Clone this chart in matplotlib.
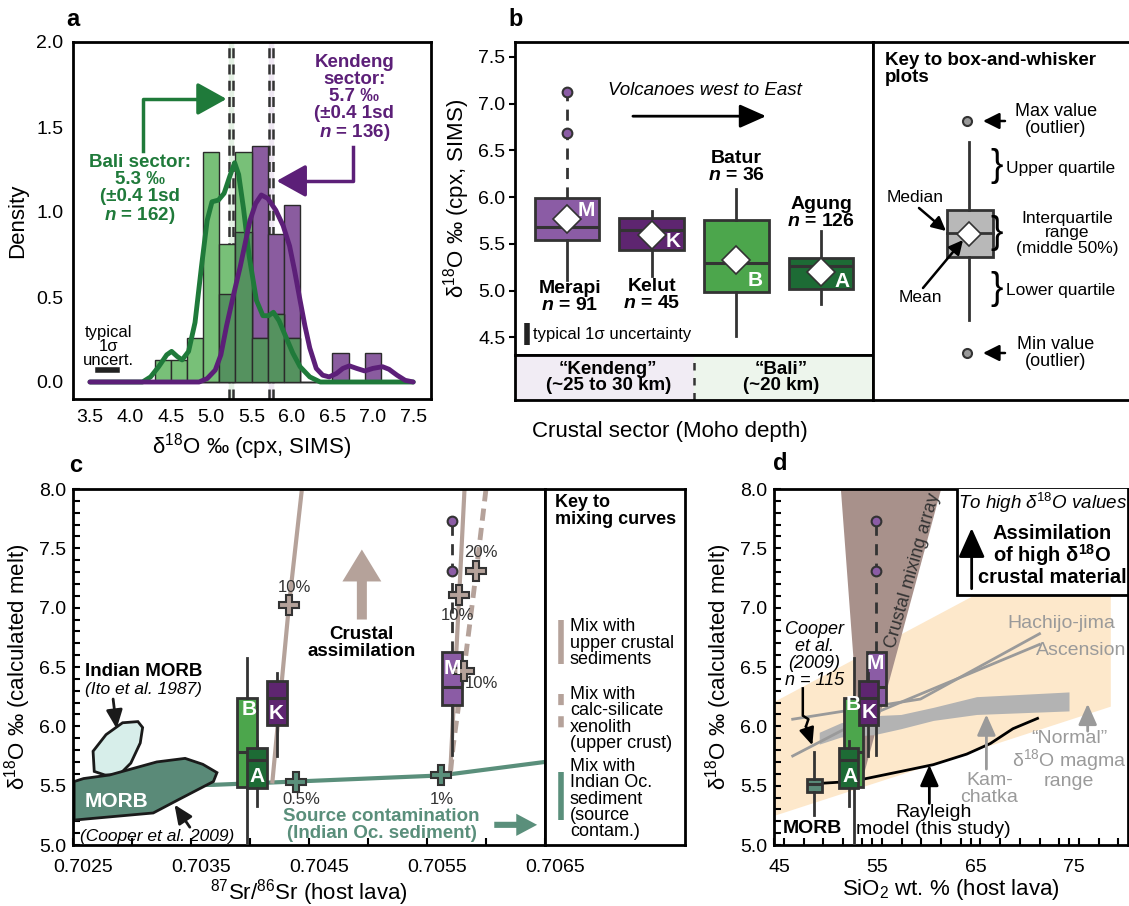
import matplotlib
matplotlib.use("Agg")
import matplotlib.pyplot as plt
import matplotlib.transforms as mtransforms
import numpy as np
from matplotlib.patches import Polygon, Rectangle
from matplotlib.ticker import FormatStrFormatter, MultipleLocator

plt.rcParams["font.family"] = ["Liberation Sans", "DejaVu Sans"]
plt.rcParams["font.size"] = 13.5
plt.rcParams["mathtext.fontset"] = "custom"
plt.rcParams["mathtext.rm"] = "Liberation Sans"
plt.rcParams["mathtext.it"] = "Liberation Sans:italic"
plt.rcParams["mathtext.bf"] = "Liberation Sans:bold"
plt.rcParams["mathtext.bfit"] = "Liberation Sans:italic:bold"

# ---------------- panel a: histogram + KDE ----------------
bin_left = [4.3, 4.5, 4.7, 4.9, 5.1, 5.3, 5.5, 5.7, 5.9, 6.1, 6.3, 6.5, 6.7, 6.9]
bali_density = [0.13, 0.13, 0.26, 1.35, 0.81, 1.35, 0.26, 0.40, 0.26, 0, 0, 0, 0, 0]
kendeng_density = [0, 0, 0, 0, 0.52, 0.88, 1.39, 0.87, 1.04, 0, 0, 0.17, 0, 0.17]

bali_kde_x = [3.5, 4.15, 4.25, 4.35, 4.45, 4.51, 4.58, 4.64, 4.72, 4.8, 4.88, 4.95,
              5.01, 5.09, 5.16, 5.23, 5.29, 5.34, 5.4, 5.47, 5.56, 5.64, 5.71, 5.77,
              5.84, 5.92, 6.01, 6.1, 6.22, 6.35, 7.5]
bali_kde_y = [0, 0, 0.03, 0.09, 0.16, 0.18, 0.15, 0.13, 0.18, 0.35, 0.68, 0.95,
              1.06, 1.07, 1.11, 1.21, 1.29, 1.22, 1.02, 0.74, 0.48, 0.39, 0.39, 0.41,
              0.36, 0.27, 0.17, 0.09, 0.03, 0.0, 0]
kend_kde_x = [3.5, 4.85, 4.95, 5.05, 5.12, 5.19, 5.28, 5.36, 5.48, 5.55, 5.62, 5.7,
              5.8, 5.89, 5.97, 6.03, 6.1, 6.16, 6.22, 6.3, 6.38, 6.46, 6.55, 6.63,
              6.71, 6.8, 6.9, 7.0, 7.12, 7.2, 7.3, 7.4, 7.5]
kend_kde_y = [0, 0, 0.02, 0.07, 0.16, 0.33, 0.52, 0.68, 0.95, 1.05, 1.10, 1.08,
              1.01, 0.92, 0.8, 0.66, 0.48, 0.33, 0.2, 0.08, 0.04, 0.03, 0.05, 0.08,
              0.095, 0.08, 0.065, 0.08, 0.09, 0.075, 0.04, 0.01, 0]
bali_mean_band = [5.22, 5.27]
kendeng_mean_band = [5.71, 5.76]

# ---------------- panel b: cpx box plots ----------------
volcano_names = ["Merapi", "Kelut", "Batur", "Agung"]
volcano_letters = ["M", "K", "B", "A"]
volcano_n = [91, 45, 36, 126]
cpx_q1 = [5.54, 5.43, 4.98, 5.02]
cpx_median = [5.68, 5.65, 5.29, 5.26]
cpx_q3 = [5.99, 5.78, 5.75, 5.35]
cpx_mean = [5.77, 5.59, 5.33, 5.20]
cpx_low = [5.11, 5.16, 4.51, 4.86]
cpx_high = [7.12, 5.85, 6.09, 5.64]
cpx_outliers = [[6.69, 7.12], [], [], []]

# ---------------- panels c, d: calculated melt ----------------
melt_q1 = [6.18, 6.01, 5.49, 5.48]
melt_median = [6.33, 6.24, 5.78, 5.72]
melt_q3 = [6.63, 6.38, 6.24, 5.82]
melt_low = [5.76, 5.75, 4.9, 5.33]
melt_high = [7.73, 6.45, 6.58, 5.88]
melt_outliers = [[7.31, 7.73], [], [], []]
host_sr = [0.705714, 0.704227, 0.703976, 0.704060]
host_sio2 = [55.4, 54.6, 53.1, 52.6]

morb_sio2 = 49.1
morb_stats = {"q1": 5.445, "med": 5.515, "q3": 5.557, "whislo": 5.25, "whishi": 5.78}

# mixing curves (panel c)
upper_crust_a_sr = [0.70419, 0.70433, 0.70444]
upper_crust_a_d18o = [5.535, 7.02, 8.0]
upper_crust_b_sr = [0.705697, 0.705773, 0.705818]
upper_crust_b_d18o = [5.606, 7.11, 8.0]
calc_silicate_sr = [0.70570, 0.705721, 0.705767, 0.705812, 0.705867, 0.705918, 0.70600]
calc_silicate_d18o = [5.62, 5.83, 6.17, 6.465, 6.90, 7.31, 8.0]
indian_sed_sr = [0.7025, 0.70369, 0.704388, 0.705615, 0.7065]
indian_sed_d18o = [5.49, 5.507, 5.535, 5.586, 5.70]
crust_mark_sr = [0.704333, 0.705773, 0.705812, 0.705918]
crust_mark_d18o = [7.02, 7.11, 6.465, 7.31]
crust_mark_labels = ["10%", "10%", "10%", "20%"]
sed_mark_sr = [0.704388, 0.705615]
sed_mark_d18o = [5.535, 5.586]
sed_mark_labels = ["0.5%", "1%"]
morb_field_sr = [0.70251, 0.70251, 0.70259, 0.70281, 0.70321, 0.70345, 0.70360,
                 0.70372, 0.70369, 0.70339, 0.70318]
morb_field_d18o = [5.21, 5.535, 5.56, 5.59, 5.70, 5.73, 5.68, 5.61, 5.535, 5.38, 5.27]
indian_morb_sr = [0.70267, 0.70278, 0.70292, 0.70305, 0.70309, 0.70307, 0.70299,
                  0.70289, 0.70277, 0.70268]
indian_morb_d18o = [5.79, 5.93, 6.03, 6.04, 5.99, 5.86, 5.69, 5.59, 5.59, 5.62]

# panel d reference arrays
rayleigh_sio2 = [48.8, 51.8, 54.2, 57.9, 61.2, 64.6, 67.0, 69.3, 71.8]
rayleigh_d18o = [5.515, 5.53, 5.557, 5.62, 5.677, 5.766, 5.855, 5.98, 6.067]
hachijo_sio2 = [46.9, 59.9, 72.0]
hachijo_d18o = [6.06, 6.23, 6.78]
ascension_sio2 = [46.9, 55.5, 72.0]
ascension_d18o = [5.75, 6.12, 6.69]
kamchatka_sio2 = [49.6, 51.8, 55.2, 57.9, 61.2, 65.6, 75.0]
kamchatka_upper = [5.95, 6.03, 6.09, 6.10, 6.16, 6.25, 6.29]
kamchatka_lower = [5.85, 5.91, 5.93, 5.98, 6.05, 6.10, 6.13]
normal_range_sio2 = [45.0, 79.2]
normal_range_low = [5.25, 6.17]
normal_range_high = [6.21, 7.72]
mixing_array_sio2 = [51.8, 62.0, 54.0]
mixing_array_d18o = [8.0, 8.0, 5.55]

# colours
EDGE = "#333333"
GREEN_BAR = "#78c078"
OVERLAP = "#55925f"
PURPLE_BAR = "#8a5c9f"
GREEN_TXT = "#1f7a3a"
PURPLE_TXT = "#5c1f78"
BOX_COLORS = ["#8b5ca5", "#5e2570", "#4ca64c", "#1d6b35"]
TAN = "#b5a29a"
TEAL = "#5a8f7b"

W, H = 1129, 906
fig = plt.figure(figsize=(W / 100, H / 100), dpi=100)


def box_px(x0, y0, x1, y1):
    return [x0 / W, 1 - y1 / H, (x1 - x0) / W, (y1 - y0) / H]


def draw_box(ax, pos, width, stats, color, z, mean=None, dashed_top=False, fliers=()):
    st = dict(stats)
    st["fliers"] = list(fliers)
    if mean is not None:
        st["mean"] = mean
    art = ax.bxp([st], positions=[pos], widths=[width], patch_artist=True,
                 showmeans=mean is not None, showcaps=False, manage_ticks=False,
                 zorder=z,
                 boxprops=dict(facecolor=color, edgecolor=EDGE, linewidth=2),
                 medianprops=dict(color=EDGE, linewidth=2.2),
                 whiskerprops=dict(color=EDGE, linewidth=2),
                 meanprops=dict(marker="D", markerfacecolor="white",
                                markeredgecolor=EDGE, markersize=14,
                                markeredgewidth=1.2),
                 flierprops=dict(marker="o", markerfacecolor=color,
                                 markeredgecolor=EDGE, markersize=7,
                                 markeredgewidth=1.5))
    if dashed_top:
        art["whiskers"][1].set_linestyle((0, (4, 3)))
    return art


def arrow(ax, start, end, color, lw=2, hl=0.8, hw=0.4, ms=18, z=4):
    ax.annotate("", xy=end, xytext=start, zorder=z,
                arrowprops=dict(arrowstyle=f"-|>,head_length={hl},head_width={hw}",
                                mutation_scale=ms, color=color, lw=lw,
                                shrinkA=0, shrinkB=0))


def style_spines(ax, lw=2):
    for s in ax.spines.values():
        s.set_linewidth(lw)


def shift_xticklabels(ax, px):
    offset = mtransforms.ScaledTranslation(px / 100, 0, fig.dpi_scale_trans)
    for lab in ax.get_xticklabels():
        lab.set_transform(lab.get_transform() + offset)


# ================= panel a =================
axa = fig.add_axes(box_px(73, 42, 431, 399))
axa.axvspan(*bali_mean_band, color="#e4f1e4", zorder=0)
axa.axvspan(*kendeng_mean_band, color="#efe8f3", zorder=0)
for xv in bali_mean_band + kendeng_mean_band:
    axa.axvline(xv, color="#333333", lw=1.8, ls=(0, (4, 2.5)), zorder=0.5)
overlap = np.minimum(bali_density, kendeng_density)
axa.bar(bin_left, kendeng_density, width=0.2, align="edge", color=PURPLE_BAR,
        edgecolor="#2b2b2b", lw=1, zorder=1)
axa.bar(bin_left, bali_density, width=0.2, align="edge", color=GREEN_BAR,
        edgecolor="#2b2b2b", lw=1, zorder=1.1)
axa.bar(bin_left, overlap, width=0.2, align="edge", color=OVERLAP,
        edgecolor="#2b2b2b", lw=1, zorder=1.2)
axa.plot(bali_kde_x, bali_kde_y, color=GREEN_TXT, lw=3.5, zorder=3,
         solid_joinstyle="round", solid_capstyle="round")
axa.plot(kend_kde_x, kend_kde_y, color=PURPLE_TXT, lw=3.5, zorder=3.1,
         solid_joinstyle="round", solid_capstyle="round")

axa.plot([4.16, 4.16, 4.95], [1.356, 1.665, 1.665], color=GREEN_TXT, lw=2.5, zorder=4)
arrow(axa, (4.9, 1.665), (5.19, 1.665), GREEN_TXT, lw=2.5, hl=0.9, hw=0.5, ms=20)
axa.text(4.12, 1.13, "Bali sector:\n5.3 ‰\n(±0.4 1sd\n$\\mathbfit{n}$ = 162)",
         ha="center", va="center", color=GREEN_TXT, weight="bold",
         linespacing=1.0, zorder=5)
axa.plot([6.757, 6.757, 6.05], [1.385, 1.183, 1.183], color=PURPLE_TXT, lw=2.5, zorder=4)
arrow(axa, (6.1, 1.183), (5.81, 1.183), PURPLE_TXT, lw=2.5, hl=0.9, hw=0.5, ms=20)
axa.text(6.77, 1.67, "Kendeng\nsector:\n5.7 ‰\n(±0.4 1sd\n$\\mathbfit{n}$ = 136)",
         ha="center", va="center", color=PURPLE_TXT, weight="bold",
         linespacing=1.0, zorder=5)
axa.text(3.727, 0.21, "typical\n1σ\nuncert.", ha="center", va="center",
         fontsize=12, linespacing=0.9)
axa.plot([3.603, 3.83], [0.072, 0.072], color="#222222", lw=4)

axa.set_xlim(3.29, 7.72)
axa.set_ylim(-0.1, 2.0)
axa.set_xticks(np.arange(3.5, 7.51, 0.5))
axa.set_yticks([0, 0.5, 1.0, 1.5, 2.0])
axa.xaxis.set_major_formatter(FormatStrFormatter("%.1f"))
axa.yaxis.set_major_formatter(FormatStrFormatter("%.1f"))
axa.tick_params(length=0, labelsize=14, pad=7)
axa.set_xlabel("δ$^{18}$O ‰ (cpx, SIMS)", fontsize=16, labelpad=4)
axa.set_ylabel("Density", fontsize=16, labelpad=6)
style_spines(axa)

# ================= panel b =================
axb = fig.add_axes(box_px(515, 42, 873, 355))
positions_b = [1, 2, 3, 4]
for i in range(4):
    stats = {"q1": cpx_q1[i], "med": cpx_median[i], "q3": cpx_q3[i],
             "whislo": cpx_low[i], "whishi": cpx_high[i]}
    draw_box(axb, positions_b[i], 0.76, stats, BOX_COLORS[i], 2 + i,
             mean=cpx_mean[i], dashed_top=(i == 0), fliers=cpx_outliers[i])

letter_offsets = [(0.23, 0.09), (0.25, -0.06), (0.22, -0.22), (0.25, -0.1)]
for i in range(4):
    dx, dy = letter_offsets[i]
    axb.text(positions_b[i] + dx, cpx_mean[i] + dy, volcano_letters[i], color="white",
             weight="bold", fontsize=15, ha="center", va="center", zorder=10)

label_y = [4.93, 4.95, 6.32, 5.83]
for i in range(4):
    axb.text(positions_b[i] + (0.04 if i == 0 else 0), label_y[i],
             f"{volcano_names[i]}\n$\\mathbfit{{n}}$ = {volcano_n[i]}",
             ha="center", va="center", weight="bold", linespacing=1.0, fontsize=14)

axb.text(2.63, 7.14, "Volcanoes west to East", style="italic", ha="center",
         va="center", fontsize=13.5)
arrow(axb, (1.78, 6.866), (3.35, 6.866), "black", lw=2, hl=0.9, hw=0.4, ms=18)
axb.plot([0.53, 0.53], [4.42, 4.65], color="#222222", lw=4, solid_capstyle="butt")
axb.text(0.6, 4.53, "typical 1σ uncertainty", ha="left", va="center", fontsize=12)

axb.set_xlim(0.39, 4.61)
axb.set_ylim(4.31, 7.66)
axb.set_xticks([])
axb.set_yticks(np.arange(4.5, 7.51, 0.5))
axb.yaxis.set_major_formatter(FormatStrFormatter("%.1f"))
axb.tick_params(axis="y", direction="out", length=4, width=1.5, labelsize=14, pad=3)
axb.set_ylabel("δ$^{18}$O ‰ (cpx, SIMS)", fontsize=16, labelpad=4)
style_spines(axb)

# sector strip
axs = fig.add_axes(box_px(515, 355, 873, 400))
axs.set_xlim(0.39, 4.61)
axs.set_ylim(0, 1)
axs.axvspan(0.39, 2.5, color="#f1ecf4")
axs.axvspan(2.5, 4.61, color="#edf5ec")
axs.axvline(2.5, color="#333333", lw=1.8, ls=(0, (3, 3)))
axs.text(1.49, 0.5, "“Kendeng”\n(~25 to 30 km)", ha="center", va="center",
         weight="bold", linespacing=1.0)
axs.text(3.53, 0.5, "“Bali”\n(~20 km)", ha="center", va="center",
         weight="bold", linespacing=1.0)
axs.set_xticks([])
axs.set_yticks([])
style_spines(axs)
fig.text(670 / W, 1 - 432 / H, "Crustal sector (Moho depth)", ha="center",
         va="center", fontsize=16)

# key to box-and-whisker plots (schematic, pixel-like units)
axk = fig.add_axes(box_px(873, 42, 1128, 400))
axk.set_xlim(0, 255)
axk.set_ylim(358, 0)
axk.set_xticks([])
axk.set_yticks([])
style_spines(axk)
axk.spines["right"].set_visible(False)
axk.text(12, 10, "Key to box-and-whisker\nplots", weight="bold", ha="left",
         va="top", fontsize=13.5, linespacing=1.0)
axk.plot([96, 96], [100, 168], color=EDGE, lw=2)
axk.plot([96, 96], [215, 278], color=EDGE, lw=2)
axk.add_patch(Rectangle((74, 168), 46, 47, facecolor="#b8b8b8", edgecolor=EDGE, lw=2))
axk.plot([74, 120], [191, 191], color=EDGE, lw=2)
axk.plot([96], [192], marker="D", markersize=12, markerfacecolor="white",
         markeredgecolor=EDGE, markeredgewidth=1.2)
for yv in (79, 311):
    axk.plot([94], [yv], marker="o", markersize=6.5, markerfacecolor="#999999",
             markeredgecolor=EDGE, markeredgewidth=1.5)
    arrow(axk, (132, yv), (110, yv), "black", lw=1.8, hl=0.7, hw=0.35, ms=14)
axk.text(183, 78, "Max value\n(outlier)", ha="center", va="center", fontsize=13,
         linespacing=1.0)
axk.text(183, 311, "Min value\n(outlier)", ha="center", va="center", fontsize=13,
         linespacing=1.0)
for yb in (124, 191, 247):
    axk.text(124, yb, "}", ha="center", va="center", fontsize=27, fontweight="light")
axk.text(133, 126, "Upper quartile", ha="left", va="center", fontsize=12.5)
axk.text(194, 191, "Interquartile\nrange\n(middle 50%)", ha="center", va="center",
         fontsize=12.5, linespacing=1.0)
axk.text(133, 248, "Lower quartile", ha="left", va="center", fontsize=12.5)
axk.text(42, 155, "Median", ha="center", va="center", fontsize=12.5)
arrow(axk, (46, 166), (73, 189), "black", lw=1.8, hl=0.7, hw=0.35, ms=12)
axk.text(47, 256, "Mean", ha="center", va="center", fontsize=12.5)
arrow(axk, (50, 246), (90, 198), "black", lw=1.8, hl=0.7, hw=0.35, ms=12)

# ================= panel c =================
axc = fig.add_axes(box_px(73, 489, 545, 845))
axc.add_patch(Polygon(np.column_stack([indian_morb_sr, indian_morb_d18o]),
                      closed=True, facecolor="#d7eeea", edgecolor="#1a1a1a", lw=2,
                      zorder=1.5))
axc.plot(indian_sed_sr, indian_sed_d18o, color=TEAL, lw=3, zorder=1.6)
axc.add_patch(Polygon(np.column_stack([morb_field_sr, morb_field_d18o]),
                      closed=True, facecolor="#5a8a78", edgecolor="#1a1a1a", lw=2,
                      zorder=1.7))
axc.plot(upper_crust_a_sr, upper_crust_a_d18o, color=TAN, lw=3, zorder=1.6)
axc.plot(upper_crust_b_sr, upper_crust_b_d18o, color=TAN, lw=3, zorder=1.6)
axc.plot(calc_silicate_sr, calc_silicate_d18o, color=TAN, lw=3.5,
         ls=(0, (2.5, 1.5)), zorder=1.6)

order_c = [2, 3, 1, 0]
for k, i in enumerate(order_c):
    stats = {"q1": melt_q1[i], "med": melt_median[i], "q3": melt_q3[i],
             "whislo": melt_low[i], "whishi": melt_high[i]}
    draw_box(axc, host_sr[i], 0.00017, stats, BOX_COLORS[i], 3 + k,
             dashed_top=(i == 0), fliers=melt_outliers[i])
letter_pos_c = [(0.705711, 6.49), (0.70422, 6.11), (0.703994, 6.14), (0.70406, 5.58)]
for i in range(4):
    axc.text(*letter_pos_c[i], volcano_letters[i], color="white", weight="bold",
             fontsize=15, ha="center", va="center", zorder=10)

axc.plot(crust_mark_sr, crust_mark_d18o, ls="none", marker="P", markersize=15,
         markerfacecolor=TAN, markeredgecolor=EDGE, markeredgewidth=1.5, zorder=8)
axc.plot(sed_mark_sr, sed_mark_d18o, ls="none", marker="P", markersize=15,
         markerfacecolor=TEAL, markeredgecolor=EDGE, markeredgewidth=1.5, zorder=8)
crust_label_pos = [(0.704373, 7.17), (0.705758, 6.935), (0.705964, 6.36), (0.705958, 7.465)]
for (xl, yl), lab in zip(crust_label_pos, crust_mark_labels):
    axc.text(xl, yl, lab, ha="center", va="center", fontsize=12, color="#333333")
for xl, lab in zip([0.704433, 0.705624], sed_mark_labels):
    axc.text(xl, 5.38, lab, ha="center", va="center", fontsize=12, color="#333333")

axc.annotate("", xy=(0.704948, 7.49), xytext=(0.704948, 6.90), zorder=4,
             arrowprops=dict(arrowstyle="simple,head_length=1.15,head_width=1.4,tail_width=0.36",
                             mutation_scale=20, color=TAN, lw=0, shrinkA=0, shrinkB=0))
axc.text(0.704948, 6.70, "Crustal\nassimilation", ha="center", va="center",
         weight="bold", linespacing=1.0)
axc.text(0.705115, 5.17, "Source contamination\n(Indian Oc. sediment)", ha="center",
         va="center", weight="bold", color=TEAL, linespacing=1.0)
axc.annotate("", xy=(0.706433, 5.17), xytext=(0.70607, 5.17), zorder=4,
             arrowprops=dict(arrowstyle="simple,head_length=0.75,head_width=0.8,tail_width=0.22",
                             mutation_scale=20, color=TEAL, lw=0, shrinkA=0, shrinkB=0))

axc.text(0.7031, 6.46, "Indian MORB", ha="center", va="center", weight="bold")
axc.text(0.7031, 6.31, "(Ito et al. 1987)", ha="center", va="center",
         style="italic", fontsize=12.5)
arrow(axc, (0.70284, 6.23), (0.70287, 5.98), "#1a1a1a", lw=2, hl=0.8, hw=0.35, ms=14)
axc.text(0.70287, 5.37, "MORB", ha="center", va="center", weight="bold",
         color="white", fontsize=15, zorder=5)
axc.text(0.70321, 5.07, "(Cooper et al. 2009)", ha="center", va="center",
         style="italic", fontsize=12.5)
arrow(axc, (0.70349, 5.15), (0.70336, 5.34), "#1a1a1a", lw=2, hl=0.8, hw=0.35, ms=14)

axc.set_xlim(0.7025, 0.7065)
axc.set_ylim(5.0, 8.0)
axc.set_xticks([0.7025, 0.7035, 0.7045, 0.7055, 0.7065])
axc.xaxis.set_minor_locator(MultipleLocator(0.0005))
axc.xaxis.set_major_formatter(FormatStrFormatter("%.4f"))
axc.set_yticks(np.arange(5.0, 8.01, 0.5))
axc.yaxis.set_minor_locator(MultipleLocator(0.1))
axc.yaxis.set_major_formatter(FormatStrFormatter("%.1f"))
axc.tick_params(which="both", direction="in", length=5, width=1.5, labelsize=14, pad=5)
axc.tick_params(axis="x", which="both", pad=10)
axc.set_xlabel("$^{87}$Sr/$^{86}$Sr (host lava)", fontsize=16, labelpad=1)
axc.set_ylabel("δ$^{18}$O ‰ (calculated melt)", fontsize=16, labelpad=4)
style_spines(axc)
shift_xticklabels(axc, 10)

# key to mixing curves
axck = fig.add_axes(box_px(545, 489, 685, 845))
axck.set_xlim(0, 140)
axck.set_ylim(356, 0)
axck.set_xticks([])
axck.set_yticks([])
style_spines(axck)
axck.text(10, 5, "Key to\nmixing curves", weight="bold", ha="left", va="top",
          fontsize=13, linespacing=1.0)
axck.plot([16, 16], [131, 175], color=TAN, lw=4, solid_capstyle="butt")
axck.text(25, 154, "Mix with\nupper crustal\nsediments", ha="left", va="center",
          fontsize=13, linespacing=0.95)
axck.plot([16, 16], [205, 243], color=TAN, lw=4, ls=(0, (2, 2)))
axck.text(25, 230, "Mix with\ncalc-silicate\nxenolith\n(upper crust)", ha="left",
          va="center", fontsize=13, linespacing=0.95)
axck.plot([16, 16], [283, 331], color=TEAL, lw=4, solid_capstyle="butt")
axck.text(25, 310, "Mix with\nIndian Oc.\nsediment\n(source\ncontam.)", ha="left",
          va="center", fontsize=13, linespacing=0.95)

# ================= panel d =================
axd = fig.add_axes(box_px(774, 489, 1128, 845))
axd.fill_between(normal_range_sio2, normal_range_low, normal_range_high,
                 color="#fde8cb", lw=0, zorder=0.5)
axd.add_patch(Polygon(np.column_stack([mixing_array_sio2, mixing_array_d18o]),
                      closed=True, facecolor="#a8918b", edgecolor="none", zorder=1))
axd.text(59.1, 7.31, "Crustal mixing array", rotation=74, ha="center", va="center",
         fontsize=13, color="#333333", rotation_mode="anchor", zorder=1.1)
axd.fill_between(kamchatka_sio2, kamchatka_lower, kamchatka_upper, color="#b3b3b3",
                 lw=0, zorder=1.5)
axd.plot(hachijo_sio2, hachijo_d18o, color="#9a9a9a", lw=2, zorder=1.6)
axd.plot(ascension_sio2, ascension_d18o, color="#9a9a9a", lw=2, zorder=1.6)
axd.plot(rayleigh_sio2, rayleigh_d18o, color="black", lw=2, zorder=1.7)

draw_box(axd, morb_sio2, 1.55, morb_stats, "#5a8a78", 2.5)
order_d = [2, 3, 0, 1]
for k, i in enumerate(order_d):
    stats = {"q1": melt_q1[i], "med": melt_median[i], "q3": melt_q3[i],
             "whislo": melt_low[i], "whishi": melt_high[i]}
    draw_box(axd, host_sio2[i], 1.9, stats, BOX_COLORS[i], 3 + k,
             dashed_top=(i == 0), fliers=melt_outliers[i])
letter_pos_d = [(55.35, 6.53), (54.7, 6.12), (53.1, 6.18), (52.7, 5.58)]
for i in range(4):
    axd.text(*letter_pos_d[i], volcano_letters[i], color="white", weight="bold",
             fontsize=15, ha="center", va="center", zorder=10)

axd.text(74.2, 6.87, "Hachijo-jima", ha="center", va="center", color="#9a9a9a", fontsize=14)
axd.text(76.2, 6.64, "Ascension", ha="center", va="center", color="#9a9a9a", fontsize=14)
axd.text(66.9, 5.47, "Kam-\nchatka", ha="center", va="center", color="#9a9a9a",
         fontsize=14, linespacing=1.0)
arrow(axd, (66.6, 5.64), (66.6, 6.10), "#9a9a9a", lw=2, hl=0.9, hw=0.4, ms=14)
axd.text(75.0, 5.72, "“Normal”\nδ$^{18}$O magma\nrange", ha="center", va="center",
         color="#9a9a9a", fontsize=14, linespacing=1.0)
arrow(axd, (76.9, 5.96), (76.9, 6.19), "#9a9a9a", lw=2, hl=0.9, hw=0.4, ms=14)
axd.text(61.2, 5.2, "Rayleigh\nmodel (this study)", ha="center", va="center",
         fontsize=14, linespacing=1.0)
arrow(axd, (60.8, 5.35), (60.8, 5.675), "black", lw=2, hl=0.9, hw=0.4, ms=14)
axd.text(48.9, 5.14, "MORB", ha="center", va="center", weight="bold", fontsize=14)
axd.text(49.1, 6.6, "Cooper\net al.\n(2009)\nn = 115", ha="center", va="center",
         style="italic", fontsize=13, linespacing=1.0)
axd.plot([47.93, 47.93, 48.5, 48.25], [6.32, 6.09, 6.06, 6.0], color="black", lw=1.8)
arrow(axd, (48.25, 6.0), (48.9, 5.84), "black", lw=1.8, hl=0.8, hw=0.35, ms=13)

axd.add_patch(Rectangle((63.6, 7.11), 81 - 63.6, 0.95, facecolor="white",
                        edgecolor="black", lw=2, zorder=6))
axd.text(72.3, 7.88, "To high δ$^{18}$O values", ha="center", va="center",
         style="italic", fontsize=13.5, zorder=7)
arrow(axd, (65.1, 7.16), (65.1, 7.67), "black", lw=2, hl=1.0, hw=0.45, ms=18, z=7)
axd.text(73.3, 7.44, "Assimilation\nof high δ$^{\\mathbf{18}}$O\ncrustal material",
         ha="center", va="center", weight="bold", fontsize=14.5, linespacing=1.0,
         zorder=7)

axd.set_xlim(45, 81)
axd.set_ylim(5.0, 8.0)
axd.set_xticks([45, 55, 65, 75])
axd.xaxis.set_minor_locator(MultipleLocator(2))
axd.set_yticks(np.arange(5.0, 8.01, 0.5))
axd.yaxis.set_minor_locator(MultipleLocator(0.1))
axd.yaxis.set_major_formatter(FormatStrFormatter("%.1f"))
axd.tick_params(which="both", direction="in", length=5, width=1.5, labelsize=14, pad=5)
axd.tick_params(axis="x", which="both", pad=10)
axd.set_xlabel("SiO$_2$ wt. % (host lava)", fontsize=16, labelpad=1)
axd.set_ylabel("δ$^{18}$O ‰ (calculated melt)", fontsize=16, labelpad=4)
style_spines(axd)
shift_xticklabels(axd, 5)

for lab, (px, py) in zip("abcd", [(73, 20), (516, 20), (76, 466), (780, 464)]):
    fig.text(px / W, 1 - py / H, lab, fontsize=17, weight="bold", ha="center", va="center")

fig.savefig("out.png", dpi=100)
